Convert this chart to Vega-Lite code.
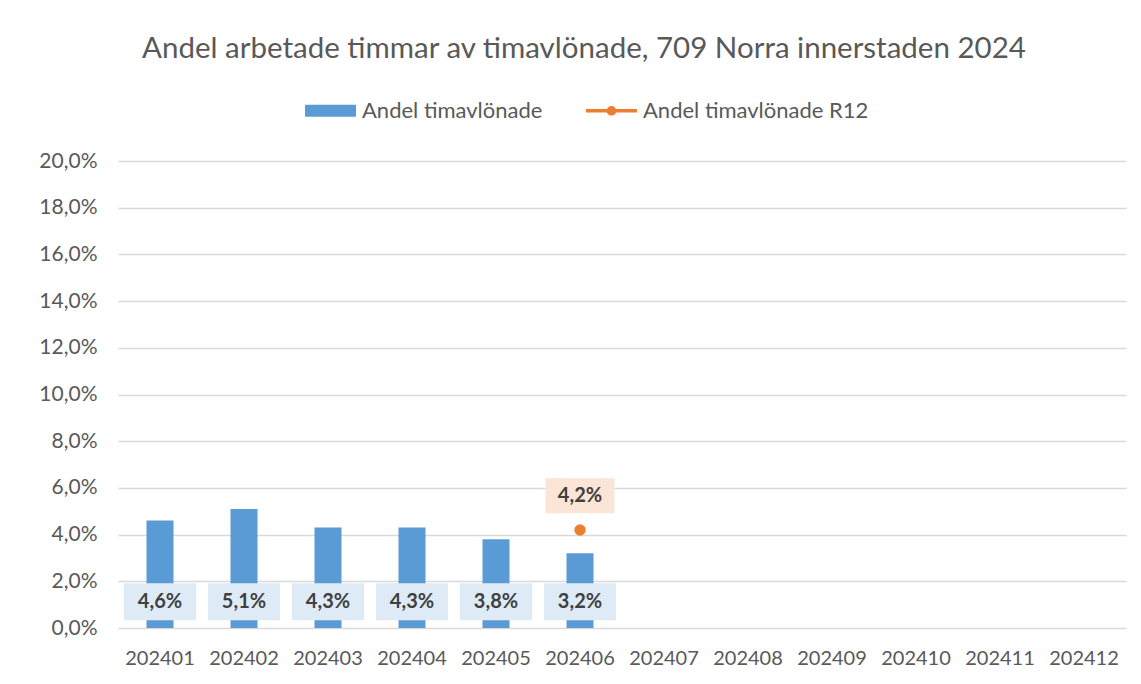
{
  "$schema": "https://vega.github.io/schema/vega-lite/v6.json",
  "autosize": "none",
  "width": 1008,
  "height": 467,
  "padding": {"left": 118, "top": 161, "right": 15, "bottom": 56},
  "background": "white",
  "title": {
    "text": "Andel arbetade timmar av timavlönade, 709 Norra innerstaden 2024",
    "font": "Lato",
    "fontSize": 29.5,
    "fontWeight": "normal",
    "color": "#595959",
    "anchor": "middle",
    "dx": -38,
    "offset": -2,
    "baseline": "alphabetic"
  },
  "data": {
    "values": [
      {"month": "202401", "andel": 0.046, "r12": null},
      {"month": "202402", "andel": 0.051, "r12": null},
      {"month": "202403", "andel": 0.043, "r12": null},
      {"month": "202404", "andel": 0.043, "r12": null},
      {"month": "202405", "andel": 0.038, "r12": null},
      {"month": "202406", "andel": 0.032, "r12": 0.042},
      {"month": "202407", "andel": null, "r12": null},
      {"month": "202408", "andel": null, "r12": null},
      {"month": "202409", "andel": null, "r12": null},
      {"month": "202410", "andel": null, "r12": null},
      {"month": "202411", "andel": null, "r12": null},
      {"month": "202412", "andel": null, "r12": null}
    ]
  },
  "encoding": {
    "x": {
      "field": "month",
      "type": "ordinal",
      "scale": {
        "domain": ["202401", "202402", "202403", "202404", "202405", "202406", "202407", "202408", "202409", "202410", "202411", "202412"],
        "paddingInner": 0,
        "paddingOuter": 0
      },
      "axis": {
        "title": null,
        "labelAngle": 0,
        "domain": false,
        "ticks": false,
        "labelPadding": 20,
        "labelFont": "Lato",
        "labelFontSize": 20,
        "labelColor": "#595959"
      }
    }
  },
  "layer": [
    {
      "mark": {"type": "bar", "size": 27},
      "transform": [{"filter": "isValid(datum.andel)"}],
      "encoding": {
        "y": {
          "field": "andel",
          "type": "quantitative",
          "scale": {"domain": [0, 0.2]},
          "axis": {
            "title": null,
            "values": [0, 0.02, 0.04, 0.06, 0.08, 0.1, 0.12, 0.14, 0.16, 0.18, 0.2],
            "format": ".1%",
            "domain": false,
            "ticks": false,
            "gridColor": "#d9d9d9",
            "gridWidth": 1.3,
            "labelPadding": 21,
            "labelFont": "Lato",
            "labelFontSize": 21,
            "labelColor": "#595959"
          }
        },
        "color": {
          "datum": "Andel timavlönade",
          "type": "nominal",
          "scale": {
            "domain": ["Andel timavlönade", "Andel timavlönade R12"],
            "range": ["#5b9bd5", "#ed7d31"]
          },
          "legend": {
            "title": null,
            "orient": "none",
            "legendX": 187,
            "legendY": -76,
            "direction": "horizontal",
            "padding": 0,
            "symbolSize": 2600,
            "symbolStrokeWidth": 0,
            "labelFont": "Lato",
            "labelFontSize": 22,
            "labelColor": "#595959",
            "labelOffset": 6,
            "columnPadding": 43,
            "labelLimit": 400,
            "encode": {
              "symbols": {
                "update": {
                  "shape": {"signal": "datum.value === 'Andel timavlönade' ? 'M-1,-0.24H1V0.24H-1Z' : 'M-1,-0.07H1V0.07H-1Z M-0.19,0A0.19,0.19 0 1,1 0.19,0A0.19,0.19 0 1,1 -0.19,0Z'"}
                }
              }
            }
          }
        }
      }
    },
    {
      "mark": {"type": "bar", "size": 72, "color": "#deebf7", "yOffset": -7.7, "y2Offset": -44.7},
      "transform": [{"filter": "isValid(datum.andel)"}],
      "encoding": {
        "y": {"datum": 0, "type": "quantitative"},
        "y2": {"datum": 0}
      }
    },
    {
      "mark": {"type": "text", "font": "Lato", "fontSize": 20, "fontWeight": "bold", "color": "#404040", "baseline": "middle", "yOffset": -26},
      "transform": [{"filter": "isValid(datum.andel)"}],
      "encoding": {
        "y": {"datum": 0, "type": "quantitative"},
        "text": {"field": "andel", "type": "quantitative", "format": ".1%"}
      }
    },
    {
      "mark": {"type": "point", "filled": true, "size": 130, "opacity": 1},
      "transform": [{"filter": "isValid(datum.r12)"}],
      "encoding": {
        "y": {"field": "r12", "type": "quantitative"},
        "color": {"datum": "Andel timavlönade R12", "type": "nominal"}
      }
    },
    {
      "mark": {"type": "bar", "size": 69, "color": "#fbe5d6", "yOffset": -16.6, "y2Offset": -51.6},
      "transform": [{"filter": "isValid(datum.r12)"}],
      "encoding": {
        "y": {"field": "r12", "type": "quantitative"},
        "y2": {"field": "r12"}
      }
    },
    {
      "mark": {"type": "text", "font": "Lato", "fontSize": 20, "fontWeight": "bold", "color": "#404040", "baseline": "middle", "yOffset": -34},
      "transform": [{"filter": "isValid(datum.r12)"}],
      "encoding": {
        "y": {"field": "r12", "type": "quantitative"},
        "text": {"field": "r12", "type": "quantitative", "format": ".1%"}
      }
    }
  ],
  "config": {
    "locale": {
      "number": {"decimal": ",", "thousands": " ", "grouping": [3], "currency": ["", " kr"]}
    },
    "view": {"stroke": null}
  }
}
